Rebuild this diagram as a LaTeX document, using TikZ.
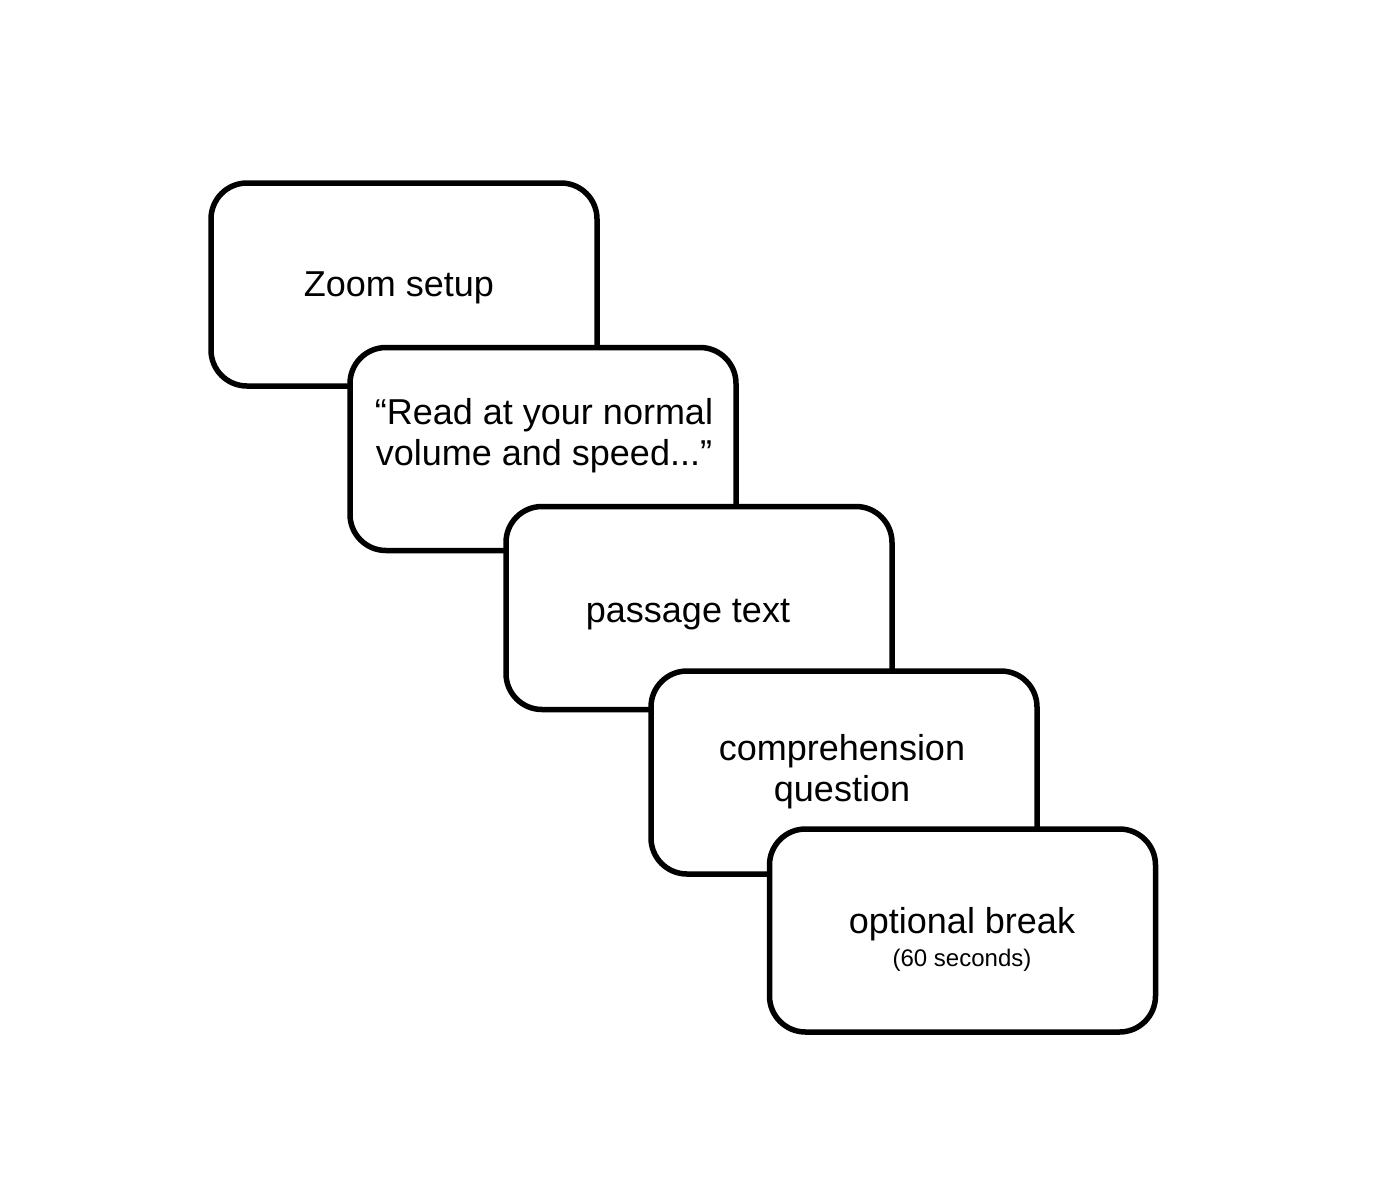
\documentclass[tikz,border=0pt]{standalone}
\usepackage{fontspec}
\setmainfont{Liberation Sans}
\begin{document}
\begin{tikzpicture}[x=1pt,y=-1pt,
  stepbox/.style={draw=black,fill=white,line width=5.5pt,rounded corners=36pt,
    minimum width=386pt,minimum height=203pt,inner sep=0pt,outer sep=0pt},
  lbl/.style={anchor=base,align=center,inner sep=0pt,font=\fontsize{36}{41}\selectfont}]
\useasboundingbox (0,0) rectangle (1376,1200);
\fill[white] (0,0) rectangle (1376,1200);
\node[stepbox] (b1) at (404,284.5) {};
\node[stepbox] (b2) at (543,449) {};
\node[stepbox] (b3) at (699,608) {};
\node[stepbox] (b4) at (844,772.5) {};
\node[stepbox] (b5) at (962.5,930.5) {};
\node[lbl] (t1) at (399,296) {Zoom setup};
\node[lbl] (t2) at (544,465) {“Read at your normal\\volume and speed...”};
\node[lbl] (t3) at (688,622) {passage text};
\node[lbl] (t4) at (842,801) {comprehension\\question};
\node[lbl] (t5) at (962,966) {optional break\\[-8pt]{\fontsize{24}{28}\selectfont (60 seconds)}};
\end{tikzpicture}
\end{document}
